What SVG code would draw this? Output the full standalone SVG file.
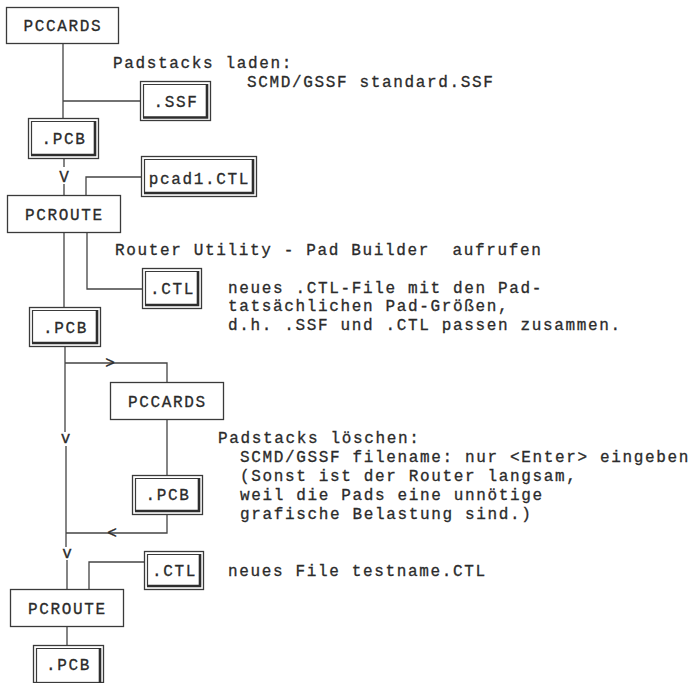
<svg xmlns="http://www.w3.org/2000/svg" width="690" height="683" viewBox="0 0 690 683">
<style>
text{font-family:"Liberation Mono","Courier New",monospace;font-size:16px;letter-spacing:1.65px;fill:#2b2b2b;stroke:#2b2b2b;stroke-width:0.3px}
.c{text-anchor:middle}
.box{fill:#fff;stroke:#3a3a3a;stroke-width:1.3}
.in{fill:none;stroke:#3a3a3a;stroke-width:1.2}
.th{fill:none;stroke:#2e2e2e;stroke-width:2.6}
.ln{fill:none;stroke:#444;stroke-width:1.3}
</style>
<rect width="690" height="683" fill="#fff"/>
<g id="connectors">
<path class="ln" d="M63,44V118M63,101H140M64,159V167M64,184V195M141,177H86V195M64,233V307M87,233V289H142M65,347V432M66,446V547M67,560V589M65,363H167V382M167,420V475M167,515V533H66M144,562H89V589M67,627V645"/>
<text class="c" x="111" y="368">&gt;</text>
<text class="c" x="113" y="538">&lt;</text>
<text class="c" x="65" y="182">V</text>
<text class="c" x="66.5" y="443">v</text>
<text class="c" x="68" y="558">v</text>
</g>
<g id="pccards1"><rect class="box" x="6.5" y="7.5" width="112" height="36"/><text class="c" x="63" y="31">PCCARDS</text></g>
<g id="ssf"><rect class="box" x="140.5" y="81.5" width="70" height="39"/><path class="in" d="M207.5,84.5H143.5V117.5"/><path class="th" d="M207,84V117.5H143"/><text class="c" x="176" y="107">.SSF</text></g>
<g id="pcb1"><rect class="box" x="28.5" y="118.5" width="70" height="40"/><path class="in" d="M95.5,121.5H31.5V155.5"/><path class="th" d="M95,121V155H31"/><text class="c" x="64" y="144">.PCB</text></g>
<g id="pcad1ctl"><rect class="box" x="141.5" y="156.5" width="115" height="40"/><path class="in" d="M253.5,159.5H144.5V193.5"/><path class="th" d="M253,159V193H144"/><text class="c" x="199.5" y="184">pcad1.CTL</text></g>
<g id="pcroute1"><rect class="box" x="7.5" y="195.5" width="113" height="37"/><text class="c" x="64.5" y="220">PCROUTE</text></g>
<g id="ctl1"><rect class="box" x="142.5" y="268.5" width="59" height="40"/><path class="in" d="M198.5,271.5H145.5V305.5"/><path class="th" d="M198,271V305H145"/><text class="c" x="172.5" y="294">.CTL</text></g>
<g id="pcb2"><rect class="box" x="29.5" y="307.5" width="71" height="39"/><path class="in" d="M97.5,310.5H32.5V343.5"/><path class="th" d="M97,310V343H32"/><text class="c" x="65.5" y="333">.PCB</text></g>
<g id="pccards2"><rect class="box" x="110.5" y="382.5" width="113" height="37"/><text class="c" x="167.5" y="407">PCCARDS</text></g>
<g id="pcb3"><rect class="box" x="132.5" y="475.5" width="70" height="39"/><path class="in" d="M199.5,478.5H135.5V511.5"/><path class="th" d="M199,478V511H135"/><text class="c" x="168" y="500">.PCB</text></g>
<g id="ctl2"><rect class="box" x="144.5" y="551.5" width="59" height="38"/><path class="in" d="M200.5,554.5H147.5V586.5"/><path class="th" d="M200,554V586H147"/><text class="c" x="174.5" y="576">.CTL</text></g>
<g id="pcroute2"><rect class="box" x="10.5" y="589.5" width="113" height="37"/><text class="c" x="67.5" y="614">PCROUTE</text></g>
<g id="pcb4"><rect class="box" x="33.5" y="645.5" width="70" height="37"/><path class="in" d="M100.5,648.5H36.5V683"/><path class="th" d="M100,648V683"/><text class="c" x="68.5" y="670">.PCB</text></g>
<g id="notes">
<text x="113" y="68">Padstacks laden:</text>
<text x="247" y="87">SCMD/GSSF standard.SSF</text>
<text x="115" y="255" xml:space="preserve">Router Utility - Pad Builder  aufrufen</text>
<text x="228" y="292.5">neues .CTL-File mit den Pad-</text>
<text x="228" y="311">tatsächlichen Pad-Größen,</text>
<text x="228" y="329.5">d.h. .SSF und .CTL passen zusammen.</text>
<text x="218" y="443">Padstacks löschen:</text>
<text x="240" y="462">SCMD/GSSF filename: nur &lt;Enter&gt; eingeben</text>
<text x="240" y="481">(Sonst ist der Router langsam,</text>
<text x="240" y="500">weil die Pads eine unnötige</text>
<text x="240" y="519">grafische Belastung sind.)</text>
<text x="228" y="576">neues File testname.CTL</text>
</g>
</svg>
